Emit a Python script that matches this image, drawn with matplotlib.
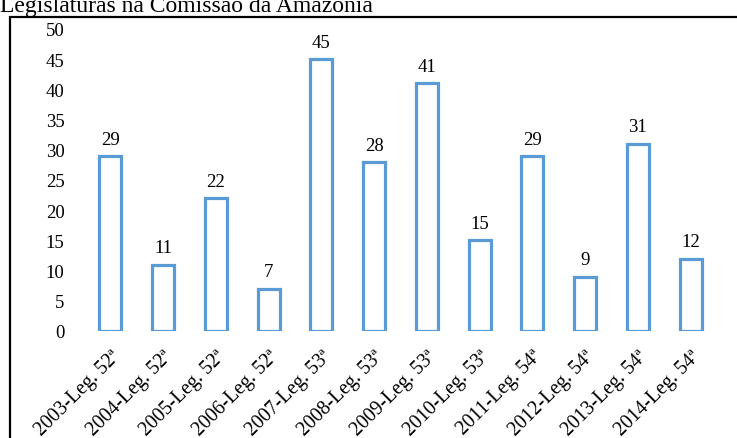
import matplotlib.pyplot as plt
from matplotlib.patches import Rectangle

plt.rcParams['font.family'] = ['Liberation Serif', 'DejaVu Serif']

anos = ['2003', '2004', '2005', '2006', '2007', '2008',
        '2009', '2010', '2011', '2012', '2013', '2014']
legislaturas = ['52ª', '52ª', '52ª', '52ª', '53ª', '53ª',
                '53ª', '53ª', '54ª', '54ª', '54ª', '54ª']
valores = [29, 11, 22, 7, 45, 28, 41, 15, 29, 9, 31, 12]

rotulos = [f'{a}-Leg. {l}' for a, l in zip(anos, legislaturas)]
x = range(len(valores))

fig = plt.figure(figsize=(7.37, 4.39), dpi=100)
ax = fig.add_axes([84 / 737, 1 - 332 / 439, (717 - 84) / 737, 302 / 439])

ax.bar(x, valores, width=0.42, facecolor='white', edgecolor='#5B9BD5',
       linewidth=2.3)
for xi, v in zip(x, valores):
    ax.annotate(str(v), (xi, v), xytext=(0, 6), textcoords='offset points',
                ha='center', va='bottom', fontsize=13.5)

ax.set_ylim(0, 50)
ax.set_xlim(-0.5, len(valores) - 0.5)
ax.set_yticks(range(0, 51, 5))
ax.tick_params(axis='y', length=0, pad=14, labelsize=13.5)
ax.set_xticks(list(x))
ax.set_xticklabels(rotulos, rotation=45, ha='right', rotation_mode='anchor',
                   fontsize=14.2)
ax.tick_params(axis='x', length=0, pad=11)
for s in ax.spines.values():
    s.set_visible(False)

# moldura do gráfico e título
fig.patches.append(Rectangle((10 / 737, -0.1), 1.2, 1.1 - 18.5 / 439,
                             transform=fig.transFigure, fill=False,
                             edgecolor='black', linewidth=1.6))
fig.text(0.0, 1 - 12 / 439, 'Legislaturas na Comissão da Amazônia',
         fontsize=17, va='baseline', ha='left')

fig.savefig('out.png', dpi=100)
